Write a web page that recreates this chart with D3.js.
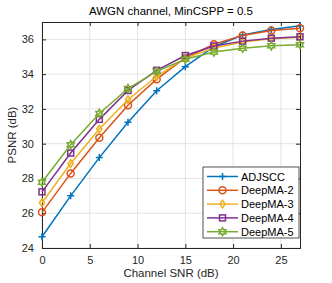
<!DOCTYPE html>
<html>
<head>
<meta charset="utf-8">
<script src="https://cdn.jsdelivr.net/npm/d3@7"></script>
<style>
  body { margin: 0; background: #fff; }
  svg { font-family: "Liberation Sans", Arial, sans-serif; }
</style>
</head>
<body>
<div id="vis"></div>
<script>
const w = 332;
const h = 283;
const margin = ({top: 22, right: 32, bottom: 35, left: 42});

// data
const snr = [0, 3, 6, 9, 12, 15, 18, 21, 24, 27];
const adjscc = [24.65, 27.0, 29.2, 31.23, 33.05, 34.43, 35.58, 36.25, 36.57, 36.78];
const deepma2 = [26.05, 28.29, 30.34, 32.21, 33.71, 34.93, 35.72, 36.23, 36.51, 36.64];
const deepma3 = [26.6, 28.86, 30.84, 32.53, 33.88, 34.92, 35.5, 35.85, 36.04, 36.12];
const deepma4 = [27.23, 29.46, 31.4, 33.06, 34.22, 35.07, 35.62, 35.9, 36.07, 36.15];
const deepma5 = [27.78, 29.94, 31.74, 33.17, 34.16, 34.86, 35.27, 35.49, 35.63, 35.69];
const seriesNames = ["ADJSCC", "DeepMA-2", "DeepMA-3", "DeepMA-4", "DeepMA-5"];
const xTicks = [0, 5, 10, 15, 20, 25];
const yTicks = [24, 26, 28, 30, 32, 34, 36];

const colors = ["#0072BD", "#D95319", "#EDB120", "#7E2F8E", "#77AC30"];
const markers = ["plus", "circle", "diamond", "square", "hexagram"];

const series = [adjscc, deepma2, deepma3, deepma4, deepma5].map((vals, i) => ({
    name: seriesNames[i],
    color: colors[i],
    marker: markers[i],
    values: vals.map((v, j) => ({x: snr[j], y: v}))
}));

const svg = d3.select('#vis')
    .append('svg')
    .attr('width', w)
    .attr('height', h);

const xScale = d3.scaleLinear()
    .domain([0, 27])
    .range([margin.left, w - margin.right]);

const yScale = d3.scaleLinear()
    .domain([24, 37])
    .range([h - margin.bottom, margin.top]);

// grid
svg.append('g')
    .selectAll('line')
    .data(xTicks)
    .join('line')
    .attr('x1', d => xScale(d)).attr('x2', d => xScale(d))
    .attr('y1', margin.top).attr('y2', h - margin.bottom)
    .attr('stroke', '#e3e3e3').attr('stroke-width', 1);

svg.append('g')
    .selectAll('line')
    .data(yTicks)
    .join('line')
    .attr('x1', margin.left).attr('x2', w - margin.right)
    .attr('y1', d => yScale(d)).attr('y2', d => yScale(d))
    .attr('stroke', '#e3e3e3').attr('stroke-width', 1);

// axes (ticks inward, box)
const xAxis = d3.axisBottom(xScale).tickValues(xTicks).tickSize(-4).tickPadding(8);
const yAxis = d3.axisLeft(yScale).tickValues(yTicks).tickSize(-4).tickPadding(8);
const xAxisTop = d3.axisTop(xScale).tickValues(xTicks).tickSize(-4).tickFormat('');
const yAxisRight = d3.axisRight(yScale).tickValues(yTicks).tickSize(-4).tickFormat('');

function styleAxis(g) {
    g.select('.domain').attr('stroke', '#262626');
    g.selectAll('.tick line').attr('stroke', '#262626');
    g.selectAll('.tick text').attr('fill', '#262626').style('font-size', '11px')
        .style('font-family', '"Liberation Sans", Arial, sans-serif');
}

svg.append('g')
    .attr('transform', 'translate(0,' + (h - margin.bottom) + ')')
    .call(xAxis).call(styleAxis);
svg.append('g')
    .attr('transform', 'translate(' + margin.left + ',0)')
    .call(yAxis).call(styleAxis);
svg.append('g')
    .attr('transform', 'translate(0,' + margin.top + ')')
    .call(xAxisTop).call(styleAxis);
svg.append('g')
    .attr('transform', 'translate(' + (w - margin.right) + ',0)')
    .call(yAxisRight).call(styleAxis);

// marker drawing
function drawMarker(g, type, color, size) {
    const r = size / 2;
    if (type === 'plus') {
        g.append('path').attr('d', `M${-r},0H${r}M0,${-r}V${r}`)
            .attr('stroke', color).attr('stroke-width', 1.5).attr('fill', 'none');
    } else if (type === 'circle') {
        g.append('circle').attr('r', r).attr('stroke', color).attr('stroke-width', 1.5).attr('fill', 'none');
    } else if (type === 'diamond') {
        g.append('path').attr('d', `M0,${-r * 1.1}L${r * 0.75},0L0,${r * 1.1}L${-r * 0.75},0Z`)
            .attr('stroke', color).attr('stroke-width', 1.5).attr('fill', 'none');
    } else if (type === 'square') {
        const s = r * 0.85;
        g.append('rect').attr('x', -s).attr('y', -s).attr('width', 2 * s).attr('height', 2 * s)
            .attr('stroke', color).attr('stroke-width', 1.5).attr('fill', 'none');
    } else if (type === 'hexagram') {
        const pts = [];
        for (let k = 0; k < 12; k++) {
            const a = Math.PI / 6 * k - Math.PI / 2;
            const rr = k % 2 === 0 ? r * 1.15 : r * 0.65;
            pts.push([rr * Math.cos(a), rr * Math.sin(a)]);
        }
        g.append('path').attr('d', 'M' + pts.map(p => p.join(',')).join('L') + 'Z')
            .attr('stroke', color).attr('stroke-width', 1.5).attr('fill', 'none');
    }
}

const line = d3.line()
    .x(d => xScale(d.x))
    .y(d => yScale(d.y));

const plot = svg.append('g');

series.forEach(s => {
    plot.append('path')
        .datum(s.values)
        .attr('d', line)
        .attr('fill', 'none')
        .attr('stroke', s.color)
        .attr('stroke-width', 1.5);
    plot.append('g')
        .selectAll('g')
        .data(s.values)
        .join('g')
        .attr('transform', d => `translate(${xScale(d.x)},${yScale(d.y)})`)
        .each(function() { drawMarker(d3.select(this), s.marker, s.color, 7); });
});

// title and labels
svg.append('text')
    .attr('x', (margin.left + w - margin.right) / 2)
    .attr('y', 15)
    .attr('text-anchor', 'middle')
    .attr('fill', '#000')
    .style('font-size', '11.5px')
    .text('AWGN channel, MinCSPP = 0.5');

svg.append('text')
    .attr('x', (margin.left + w - margin.right) / 2)
    .attr('y', h - 6)
    .attr('text-anchor', 'middle')
    .attr('fill', '#262626')
    .style('font-size', '11.5px')
    .text('Channel SNR (dB)');

svg.append('text')
    .attr('transform', `translate(16,${(margin.top + h - margin.bottom) / 2}) rotate(-90)`)
    .attr('text-anchor', 'middle')
    .attr('fill', '#262626')
    .style('font-size', '11.5px')
    .text('PSNR (dB)');

// legend
const lgX = 203, lgY = 167, lgW = 96, lgH = 71;
const legend = svg.append('g');
legend.append('rect')
    .attr('x', lgX).attr('y', lgY).attr('width', lgW).attr('height', lgH)
    .attr('fill', '#fff').attr('stroke', '#262626').attr('stroke-width', 0.8);

series.forEach((s, i) => {
    const yy = lgY + 9.5 + i * 13.8;
    legend.append('line')
        .attr('x1', lgX + 4).attr('x2', lgX + 35)
        .attr('y1', yy).attr('y2', yy)
        .attr('stroke', s.color).attr('stroke-width', 1.5);
    const mg = legend.append('g').attr('transform', `translate(${lgX + 19.5},${yy})`);
    drawMarker(mg, s.marker, s.color, 7);
    legend.append('text')
        .attr('x', lgX + 38).attr('y', yy + 4)
        .attr('fill', '#000')
        .style('font-size', '11px')
        .text(s.name);
});
</script>
</body>
</html>
